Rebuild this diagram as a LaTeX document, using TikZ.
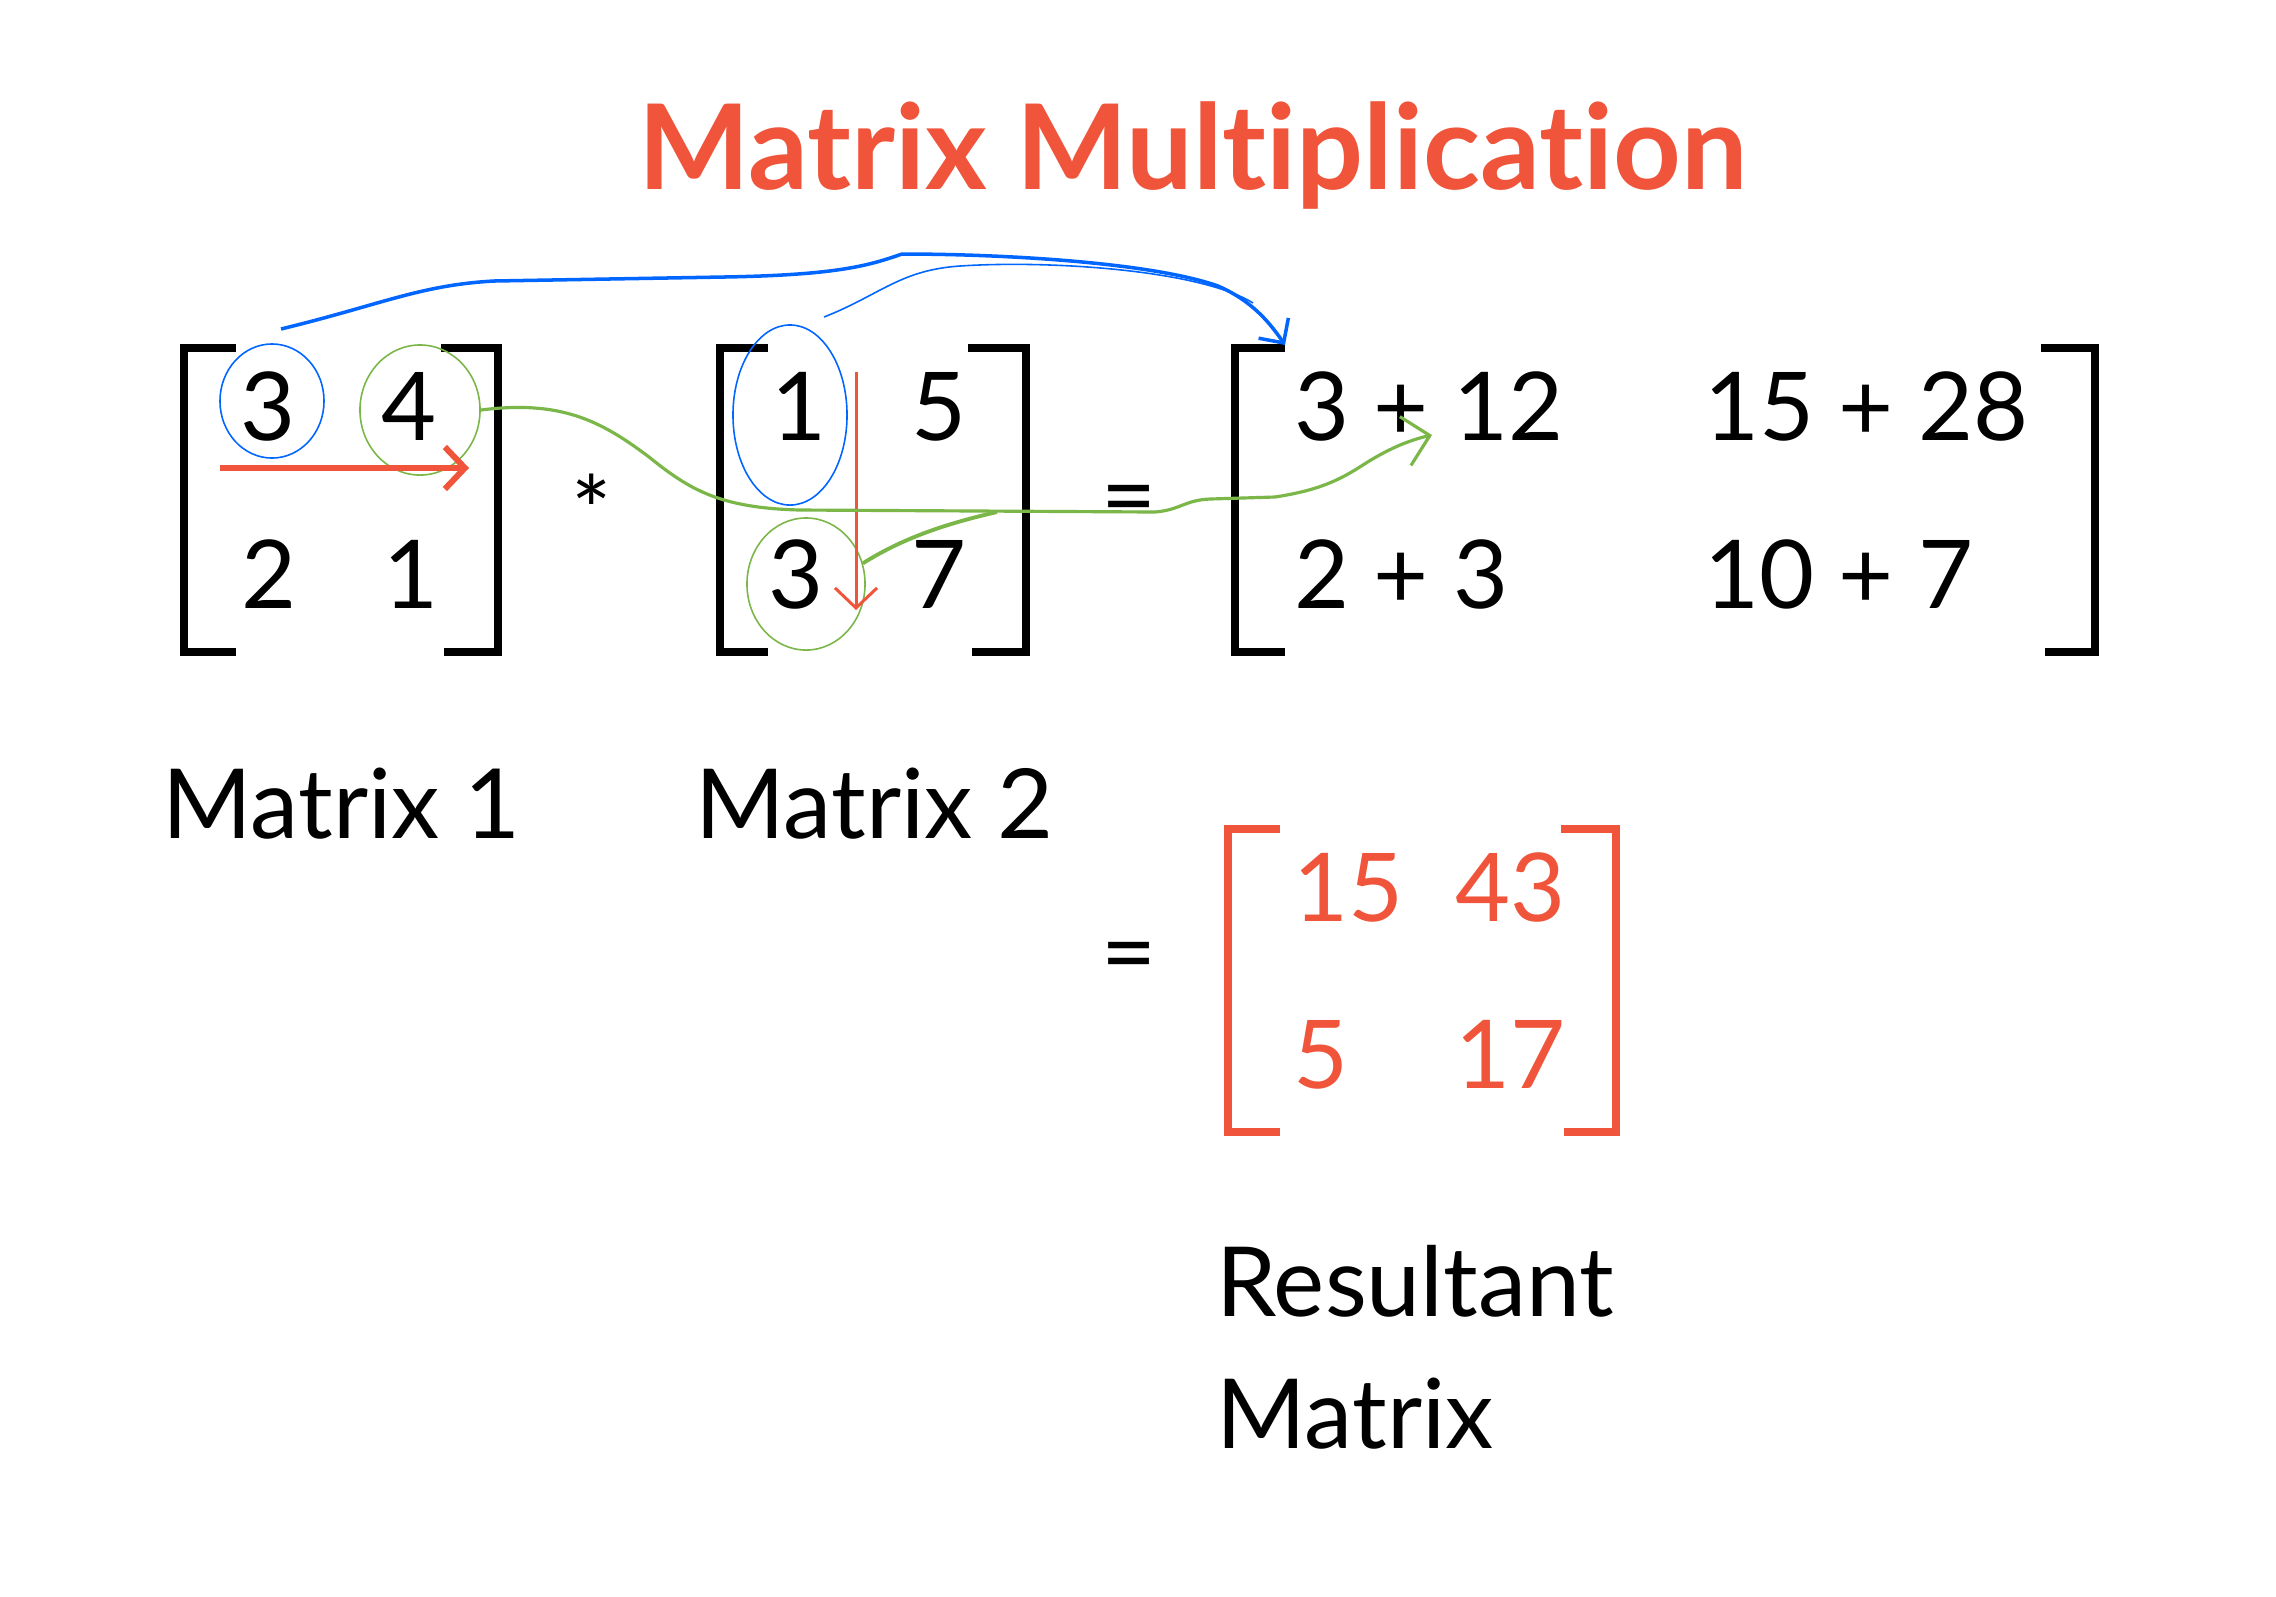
\documentclass[tikz,border=0pt]{standalone}
\usepackage{fontspec}
\setmainfont{Lato}[Ligatures=NoCommon]
\usepackage{tikz}
\usetikzlibrary{positioning,shapes.geometric,arrows.meta}
\definecolor{mmred}{RGB}{240,84,58}
\definecolor{penblue}{RGB}{0,102,255}
\definecolor{pengreen}{RGB}{122,182,72}

\begin{document}
\begin{tikzpicture}[x=0.01cm,y=-0.01cm,
		entry/.style={anchor=base,font=\fontsize{27}{32}\selectfont},
		sumentry/.style={anchor=base west,font=\fontsize{27}{32}\selectfont},
		mname/.style={anchor=base west,font=\fontsize{27.5}{32}\selectfont},
		bracket/.style={line width=2.3pt},
		ring/.style={ellipse,draw,inner sep=0pt,line width=0.45pt},
		tip/.style={-{Straight Barb[length=0.2cm,width=0.42cm]}}]
	
	\fill[white] (0,0) rectangle (2276,1596);
	\useasboundingbox (0,0) rectangle (2276,1596);
	
	% title
	\node[anchor=base,text=mmred,font=\bfseries\fontsize{33.6}{40}\selectfont] (title) at (1193,189) {Matrix Multiplication};
	
	% matrix 1
	\draw[bracket] (236,348) -| (184,652) -- (236,652);
	\draw[bracket] (441,348) -| (498,652) -- (444,652);
	\node[entry] (a11) at (268,440) {3};
	\node[entry] (a12) at (409,440) {4};
	\node[entry] (a21) at (269,608) {2};
	\node[entry] (a22) at (411,608) {1};
	\node[mname] (m1) at (150,838) {Matrix 1};
	
	\node[font=\fontsize{27}{32}\selectfont] (times) at (592,510) {*};
	
	% matrix 2
	\draw[bracket] (768,348) -| (720,652) -- (768,652);
	\draw[bracket] (968,348) -| (1026,652) -- (972,652);
	\node[entry] (b11) at (799,440) {1};
	\node[entry] (b12) at (939,440) {5};
	\node[entry] (b21) at (796,608) {3};
	\node[entry] (b22) at (939,608) {7};
	\node[mname] (m2) at (683,838) {Matrix 2};
	
	\node[font=\fontsize{27}{32}\selectfont] (eq1) at (1129,507) {=};
	
	% sums
	\draw[bracket] (1285,348) -| (1235,652) -- (1285,652);
	\draw[bracket] (2041,348) -| (2095,652) -- (2045,652);
	\node[sumentry] (s11) at (1282,440) {3 + 12};
	\node[sumentry] (s12) at (1692,440) {15 + 28};
	\node[sumentry] (s21) at (1282,608) {2 + 3};
	\node[sumentry] (s22) at (1692,608) {10 + 7};
	
	% result
	\node[font=\fontsize{27}{32}\selectfont] (eq2) at (1129,964) {=};
	\draw[bracket,mmred] (1280,829) -| (1228,1132) -- (1280,1132);
	\draw[bracket,mmred] (1561,829) -| (1616,1132) -- (1564,1132);
	\node[entry,anchor=base west,text=mmred] (r11) at (1281,921) {15};
	\node[entry,anchor=base east,text=mmred] (r12) at (1578,921) {43};
	\node[entry,anchor=base west,text=mmred] (r21) at (1281,1088) {5};
	\node[entry,anchor=base east,text=mmred] (r22) at (1578,1088) {17};
	\node[mname] (res) at (1204,1316) {Resultant};
	\node[mname] (resm) at (1204,1448) {Matrix};
	
	% pen marks
	\node[ring,penblue,minimum width=1.04cm,minimum height=1.14cm] (ringa) at (272,401) {};
	\node[ring,penblue,minimum width=1.14cm,minimum height=1.8cm] (ringb) at (790,415) {};
	\node[ring,pengreen,minimum width=1.2cm,minimum height=1.3cm] (ringc) at (420,410) {};
	\node[ring,pengreen,minimum width=1.18cm,minimum height=1.32cm] (ringd) at (806,584) {};
	
	\coordinate (rowend) at (469,468);
	\coordinate (rowstart) at (220,468);
	\coordinate (colstart) at (856,372);
	\coordinate (colend) at (856,610);
	\coordinate (bluestart) at (281,329);
	\coordinate (bluestartb) at (824,317);
	\coordinate (firstcell) at (1285,345);
	\coordinate (plus) at (1432,435);
	\coordinate (join) at (997,512);
	
	\draw[tip,mmred,line width=1.7pt] (rowstart) -- (rowend);
	\draw[tip,mmred,line width=0.85pt] (colstart) -- (colend);
	
	\draw[penblue,line width=1pt,-{Straight Barb[length=0.18cm,width=0.36cm]}] (bluestart) .. controls (380,305) and (420,285) .. (494,281) -- (724,277) .. controls (840,275) and (870,265) .. (902,254) .. controls (1000,254) and (1150,262) .. (1218,286) .. controls (1250,300) and (1268,320) .. (firstcell);
	\draw[penblue,line width=0.45pt] (bluestartb) .. controls (880,295) and (900,270) .. (960,266) .. controls (1050,260) and (1200,270) .. (1253,303);
	
	\draw[pengreen,line width=0.9pt,-{Straight Barb[length=0.25cm,width=0.5cm]}] (ringc.east) .. controls (560,400) and (600,420) .. (649,457) .. controls (690,490) and (720,508) .. (800,510) -- (1155,512) .. controls (1180,510) and (1185,500) .. (1210,499) -- (1275,497) .. controls (1320,490) and (1340,480) .. (1366,463) .. controls (1390,448) and (1410,440) .. (plus);
	\draw[pengreen,line width=1.1pt] (ringd.20) .. controls (900,540) and (940,525) .. (join);
	
\end{tikzpicture}
\end{document}
